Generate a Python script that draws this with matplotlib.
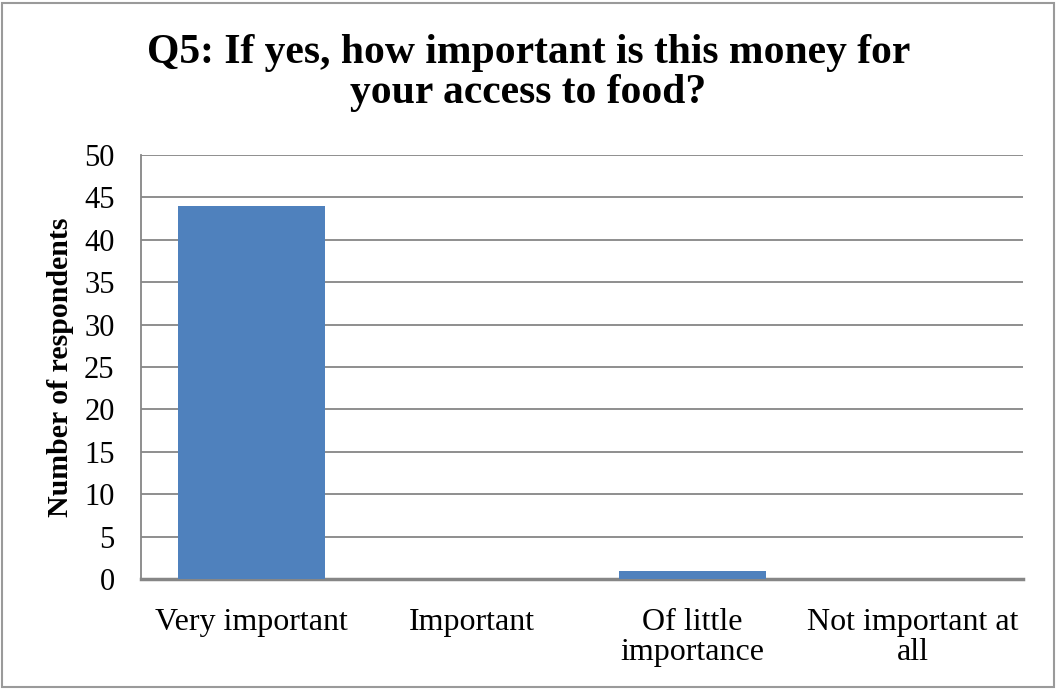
import matplotlib.pyplot as plt
import numpy as np

categories = ["Very important", "Important", "Of little\nimportance", "Not important at\nall"]
respondents = [44, 0, 1, 0]

plt.rcParams["font.family"] = ["Liberation Serif", "DejaVu Serif"]

fig = plt.figure(figsize=(10.57, 6.89), dpi=100)
ax = fig.add_axes([141 / 1057, 1 - 579 / 689, 882 / 1057, 424 / 689])

x = np.arange(len(categories))
ax.bar(x, respondents, width=0.667, color="#4F81BD", zorder=3)

ax.set_xlim(-0.5, len(categories) - 0.5)
ax.set_ylim(0, 50)
ax.set_yticks(range(0, 51, 5))
ax.yaxis.grid(True, color="#868686", linewidth=1.3, zorder=0)
ax.set_xticks(x)
ax.set_xticklabels(categories, fontsize=23, linespacing=1.06)
ax.tick_params(axis="x", length=0, pad=21)
ax.tick_params(axis="y", labelsize=22, length=0, pad=19)

for side in ["top", "right"]:
    ax.spines[side].set_visible(False)
for side in ["left", "bottom"]:
    ax.spines[side].set_color("#868686")
    ax.spines[side].set_linewidth(1.3)
ax.spines["bottom"].set_linewidth(2.5)

ax.set_ylabel("Number of respondents", fontsize=21.5, fontweight="bold")
ax.yaxis.set_label_coords(-67 / 882, 0.5)

fig.text(0.5, 1 - 73 / 689, "Q5: If yes, how important is this money for\nyour access to food?",
         ha="center", va="center", fontsize=30, fontweight="bold", linespacing=1.1)

# outer chart border
border = plt.Rectangle((2 / 1057, 2 / 689), 1 - 5 / 1057, 1 - 5 / 689, transform=fig.transFigure,
                       fill=False, edgecolor="#9A9A9A", linewidth=1.5)
fig.patches.append(border)

fig.savefig("out.png", dpi=100)
